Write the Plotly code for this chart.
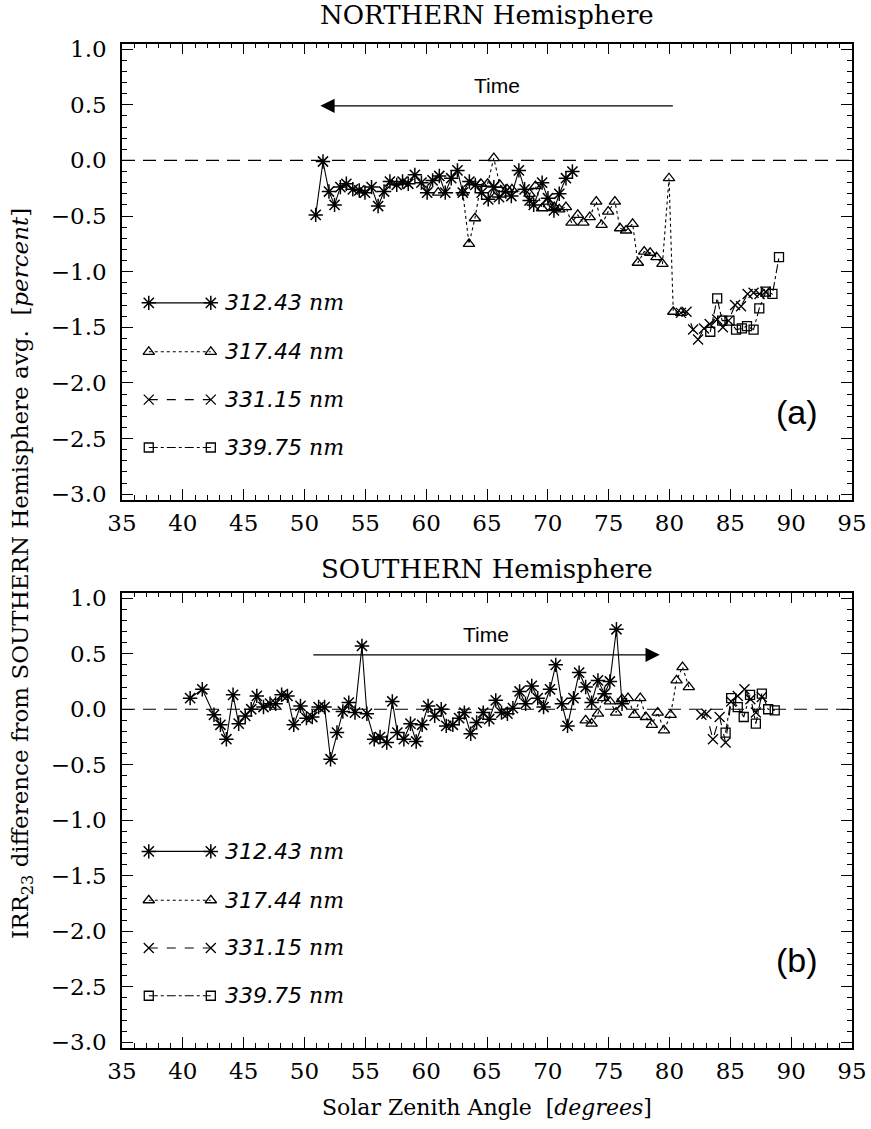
import plotly.graph_objects as go

# ---------------- data ----------------
X_RANGE = [35, 95]
Y_RANGE = [-3.05, 1.05]
WAVELENGTHS = ["312.43", "317.44", "331.15", "339.75"]

# Northern hemisphere (panel a)
N_312_x = [50.92, 51.52, 52.01, 52.47, 52.95, 53.44, 53.97, 54.50, 54.97, 55.51, 56.05, 56.54, 57.02, 57.58, 58.06,
           58.53, 59.07, 59.61, 60.08, 60.53, 61.08, 61.57, 62.06, 62.57, 63.01, 63.55, 64.04, 64.56, 65.10, 65.56,
           65.99, 66.54, 67.00, 67.62, 68.09, 68.50, 68.84, 69.53, 70.01, 70.50, 70.94, 71.49, 72.02]
N_312_y = [-0.49, -0.01, -0.28, -0.40, -0.24, -0.21, -0.26, -0.27, -0.29, -0.24, -0.41, -0.28, -0.19, -0.22, -0.19,
           -0.21, -0.13, -0.20, -0.29, -0.18, -0.14, -0.29, -0.16, -0.09, -0.29, -0.19, -0.22, -0.29, -0.35, -0.24,
           -0.33, -0.28, -0.32, -0.09, -0.26, -0.36, -0.40, -0.20, -0.34, -0.45, -0.30, -0.16, -0.10]

N_317_x = [60.99, 63.01, 63.52, 64.01, 64.50, 65.05, 65.56, 66.05, 66.65, 67.05, 68.50, 68.98, 69.53, 69.99, 70.53,
           70.94, 71.49, 71.95, 72.46, 72.92, 73.44, 73.98, 74.42, 74.96, 75.51, 75.94, 76.43, 76.97, 77.40, 77.92,
           78.41, 78.93, 79.42, 79.96, 80.31, 80.94]
N_317_y = [-0.29, -0.29, -0.75, -0.52, -0.21, -0.21, 0.02, -0.22, -0.26, -0.26, -0.30, -0.23, -0.43, -0.37, -0.42,
           -0.44, -0.42, -0.56, -0.49, -0.56, -0.51, -0.37, -0.58, -0.46, -0.37, -0.61, -0.63, -0.57, -0.92, -0.82,
           -0.83, -0.87, -0.93, -0.16, -1.36, -1.37]

N_331_x = [80.94, 81.40, 81.94, 82.35, 82.84, 83.30, 83.92, 84.39, 84.85, 85.39, 85.88, 86.42, 86.91, 87.40, 87.89]
N_331_y = [-1.37, -1.36, -1.52, -1.61, -1.51, -1.47, -1.43, -1.50, -1.44, -1.30, -1.31, -1.20, -1.19, -1.20, -1.18]

N_339_x = [83.35, 83.92, 84.33, 84.93, 85.47, 85.95, 86.37, 86.91, 87.38, 87.92, 88.46, 89.00]
N_339_y = [-1.54, -1.24, -1.44, -1.44, -1.52, -1.51, -1.49, -1.52, -1.33, -1.18, -1.20, -0.87]

# Southern hemisphere (panel b)
S_312_x = [40.60, 41.60, 42.56, 43.09, 43.58, 44.13, 44.59, 45.13, 45.62, 46.08, 46.63, 47.17, 47.63, 48.12, 48.60,
           49.12, 49.67, 50.16, 50.64, 51.16, 51.65, 52.14, 52.67, 53.15, 53.64, 54.15, 54.72, 55.13, 55.73, 56.21,
           56.76, 57.22, 57.63, 58.17, 58.71, 59.18, 59.67, 60.16, 60.70, 61.24, 61.65, 62.19, 62.71, 63.14, 63.66,
           64.15, 64.69, 65.18, 65.72, 66.19, 66.68, 67.13, 67.68, 68.17, 68.68, 69.17, 69.65, 70.18, 70.65, 71.15,
           71.62, 72.11, 72.57, 73.11, 73.60, 74.12, 74.66, 75.10, 75.64, 76.10]
S_312_y = [0.10, 0.18, -0.05, -0.14, -0.27, 0.13, -0.13, -0.06, 0.00, 0.12, 0.02, 0.05, 0.05, 0.13, 0.12,
           -0.14, 0.03, -0.08, -0.07, 0.02, 0.02, -0.45, -0.21, -0.02, 0.06, -0.03, 0.57, -0.04, -0.27, -0.25,
           -0.30, 0.07, -0.21, -0.27, -0.13, -0.29, -0.14, 0.03, -0.06, 0.00, -0.15, -0.14, -0.08, -0.03, -0.22,
           -0.12, -0.03, -0.09, 0.08, -0.03, -0.04, 0.01, 0.16, 0.05, 0.21, 0.10, 0.02, 0.18, 0.40, 0.05,
           -0.15, 0.10, 0.33, 0.20, 0.06, 0.26, 0.14, 0.25, 0.72, 0.05]

S_317_x = [73.11, 73.60, 74.12, 74.55, 75.10, 75.61, 76.10, 76.59, 77.11, 77.60, 78.06, 78.55, 79.03, 79.55, 80.09,
           80.58, 81.07, 81.59]
S_317_y = [-0.10, -0.13, -0.04, 0.10, 0.07, -0.03, 0.09, 0.10, -0.05, 0.10, -0.07, -0.14, -0.03, -0.19, -0.05,
           0.26, 0.38, 0.20]

S_331_x = [82.62, 83.03, 83.57, 84.12, 84.61, 85.07, 85.61, 86.16, 86.65, 87.10, 87.59]
S_331_y = [-0.05, -0.04, -0.27, -0.07, -0.30, 0.07, 0.12, 0.18, 0.09, -0.03, 0.11]

S_339_x = [84.61, 85.07, 85.61, 86.10, 86.62, 87.10, 87.59, 88.11, 88.65]
S_339_y = [-0.21, 0.10, 0.02, -0.07, 0.13, -0.13, 0.14, 0.00, -0.01]

# in-plot legend sample positions (data units)
LEG_X = [37.2, 42.3]
LEG_TEXT_X = 43.3
LEG_Y = [-1.28, -1.72, -2.15, -2.58]

# ---------------- page geometry ----------------
FIG_W, FIG_H = 871, 1129
ML, MR = 122, 19
PLOT_W = FIG_W - ML - MR


def px_x(px):   # page pixel -> paper x
    return (px - ML) / PLOT_W


def px_y(py):   # page pixel -> paper y
    return 1 - py / FIG_H


SERIF = "DejaVu Serif"
SANS = "Liberation Sans"
STYLES = [
    dict(symbol="asterisk-open", size=12, dash="solid", lw=1.5),
    dict(symbol="triangle-up-open", size=10, dash="dot", lw=1.3),
    dict(symbol="x-thin-open", size=10, dash="dash", lw=1.3),
    dict(symbol="square-open", size=9, dash="dashdot", lw=1.3),
]

fig = go.Figure()


def add_line(x, y, st, xa, ya):
    fig.add_trace(go.Scatter(
        x=x, y=y, mode="lines+markers", xaxis=xa, yaxis=ya, showlegend=False,
        line=dict(color="black", width=1.1, dash=st["dash"]),
        marker=dict(symbol=st["symbol"], size=st["size"], color="black",
                    line=dict(color="black", width=st["lw"])),
    ))


panels = [
    ("x", "y", [(N_312_x, N_312_y), (N_317_x, N_317_y), (N_331_x, N_331_y), (N_339_x, N_339_y)]),
    ("x2", "y2", [(S_312_x, S_312_y), (S_317_x, S_317_y), (S_331_x, S_331_y), (S_339_x, S_339_y)]),
]

for xa, ya, series in panels:
    fig.add_trace(go.Scatter(x=X_RANGE, y=[0, 0], mode="lines", xaxis=xa, yaxis=ya, showlegend=False,
                             line=dict(color="black", width=1.1, dash="13px,8px")))
    for (sx, sy), st in zip(series, STYLES):
        add_line(sx, sy, st, xa, ya)
    for ly, st in zip(LEG_Y, STYLES):
        add_line(LEG_X, [ly, ly], st, xa, ya)

annotations = []
for xa, ya, label, time_x, head, tail in [
    ("x", "y", "(a)", 65.8, 51.3, 80.4),
    ("x2", "y2", "(b)", 64.9, 79.2, 50.6),
]:
    for wl, ly in zip(WAVELENGTHS, LEG_Y):
        annotations.append(dict(
            x=LEG_TEXT_X, y=ly, xref=xa, yref=ya, xanchor="left", yanchor="middle", showarrow=False,
            text=f"<i><span style='font-family:DejaVu Sans'>{wl}</span> nm</i>",
            font=dict(family=SERIF, size=22, color="black")))
    annotations.append(dict(x=90.5, y=-2.26, xref=xa, yref=ya, xanchor="center", yanchor="middle",
                            showarrow=False, text=label, font=dict(family=SANS, size=34, color="black")))
    annotations.append(dict(x=time_x, y=0.67, xref=xa, yref=ya, xanchor="center", yanchor="middle",
                            showarrow=False, text="Time", font=dict(family=SANS, size=21, color="black")))
    annotations.append(dict(x=head, y=0.49, ax=tail, ay=0.49, xref=xa, yref=ya, axref=xa, ayref=ya,
                            text="", showarrow=True, arrowhead=2, arrowsize=2.2, arrowwidth=1.3,
                            arrowcolor="black"))

annotations += [
    dict(x=0.5, y=px_y(8), xref="paper", yref="paper", xanchor="center", yanchor="middle", showarrow=False,
         text="NORTHERN Hemisphere", font=dict(family=SERIF, size=26, color="black")),
    dict(x=0.5, y=px_y(569), xref="paper", yref="paper", xanchor="center", yanchor="middle", showarrow=False,
         text="SOUTHERN Hemisphere", font=dict(family=SERIF, size=26, color="black")),
    dict(x=0.5, y=px_y(1114), xref="paper", yref="paper", xanchor="center", yanchor="middle", showarrow=False,
         text="Solar Zenith Angle  [<i>degrees</i>]", font=dict(family=SERIF, size=22, color="black")),
    dict(x=px_x(22), y=px_y(574), xref="paper", yref="paper", xanchor="center", yanchor="middle",
         showarrow=False, textangle=-90,
         text="IRR<sub>23</sub> difference from SOUTHERN Hemisphere avg.  [<i>percent</i>]",
         font=dict(family=SERIF, size=23, color="black")),
]

axis_common = dict(
    showline=True, linecolor="black", linewidth=1.5, mirror="ticks",
    ticks="inside", ticklen=11, tickwidth=1.2, tickcolor="black",
    showgrid=False, zeroline=False,
    tickfont=dict(family=SERIF, size=23, color="black"),
)
xaxis_common = dict(axis_common, range=X_RANGE, tick0=35, dtick=5, ticklabelstandoff=2,
                    minor=dict(ticks="inside", ticklen=5, dtick=1, tickcolor="black", tickwidth=1))
yaxis_common = dict(axis_common, range=Y_RANGE, tick0=0, dtick=0.5, tickformat=".1f", ticklabelstandoff=9,
                    minor=dict(ticks="inside", ticklen=5, dtick=0.1, tickcolor="black", tickwidth=1))

fig.update_layout(
    width=FIG_W, height=FIG_H,
    margin=dict(l=ML, r=MR, t=0, b=0),
    paper_bgcolor="white", plot_bgcolor="white",
    xaxis=dict(xaxis_common, domain=[0, 1], anchor="y"),
    yaxis=dict(yaxis_common, domain=[px_y(499), px_y(37)], anchor="x"),
    xaxis2=dict(xaxis_common, domain=[0, 1], anchor="y2"),
    yaxis2=dict(yaxis_common, domain=[px_y(1054), px_y(593)], anchor="x2"),
    annotations=annotations,
    showlegend=False,
)

fig.write_html("out.html", config={"displayModeBar": False},
               post_script="document.body.style.margin='0';")
